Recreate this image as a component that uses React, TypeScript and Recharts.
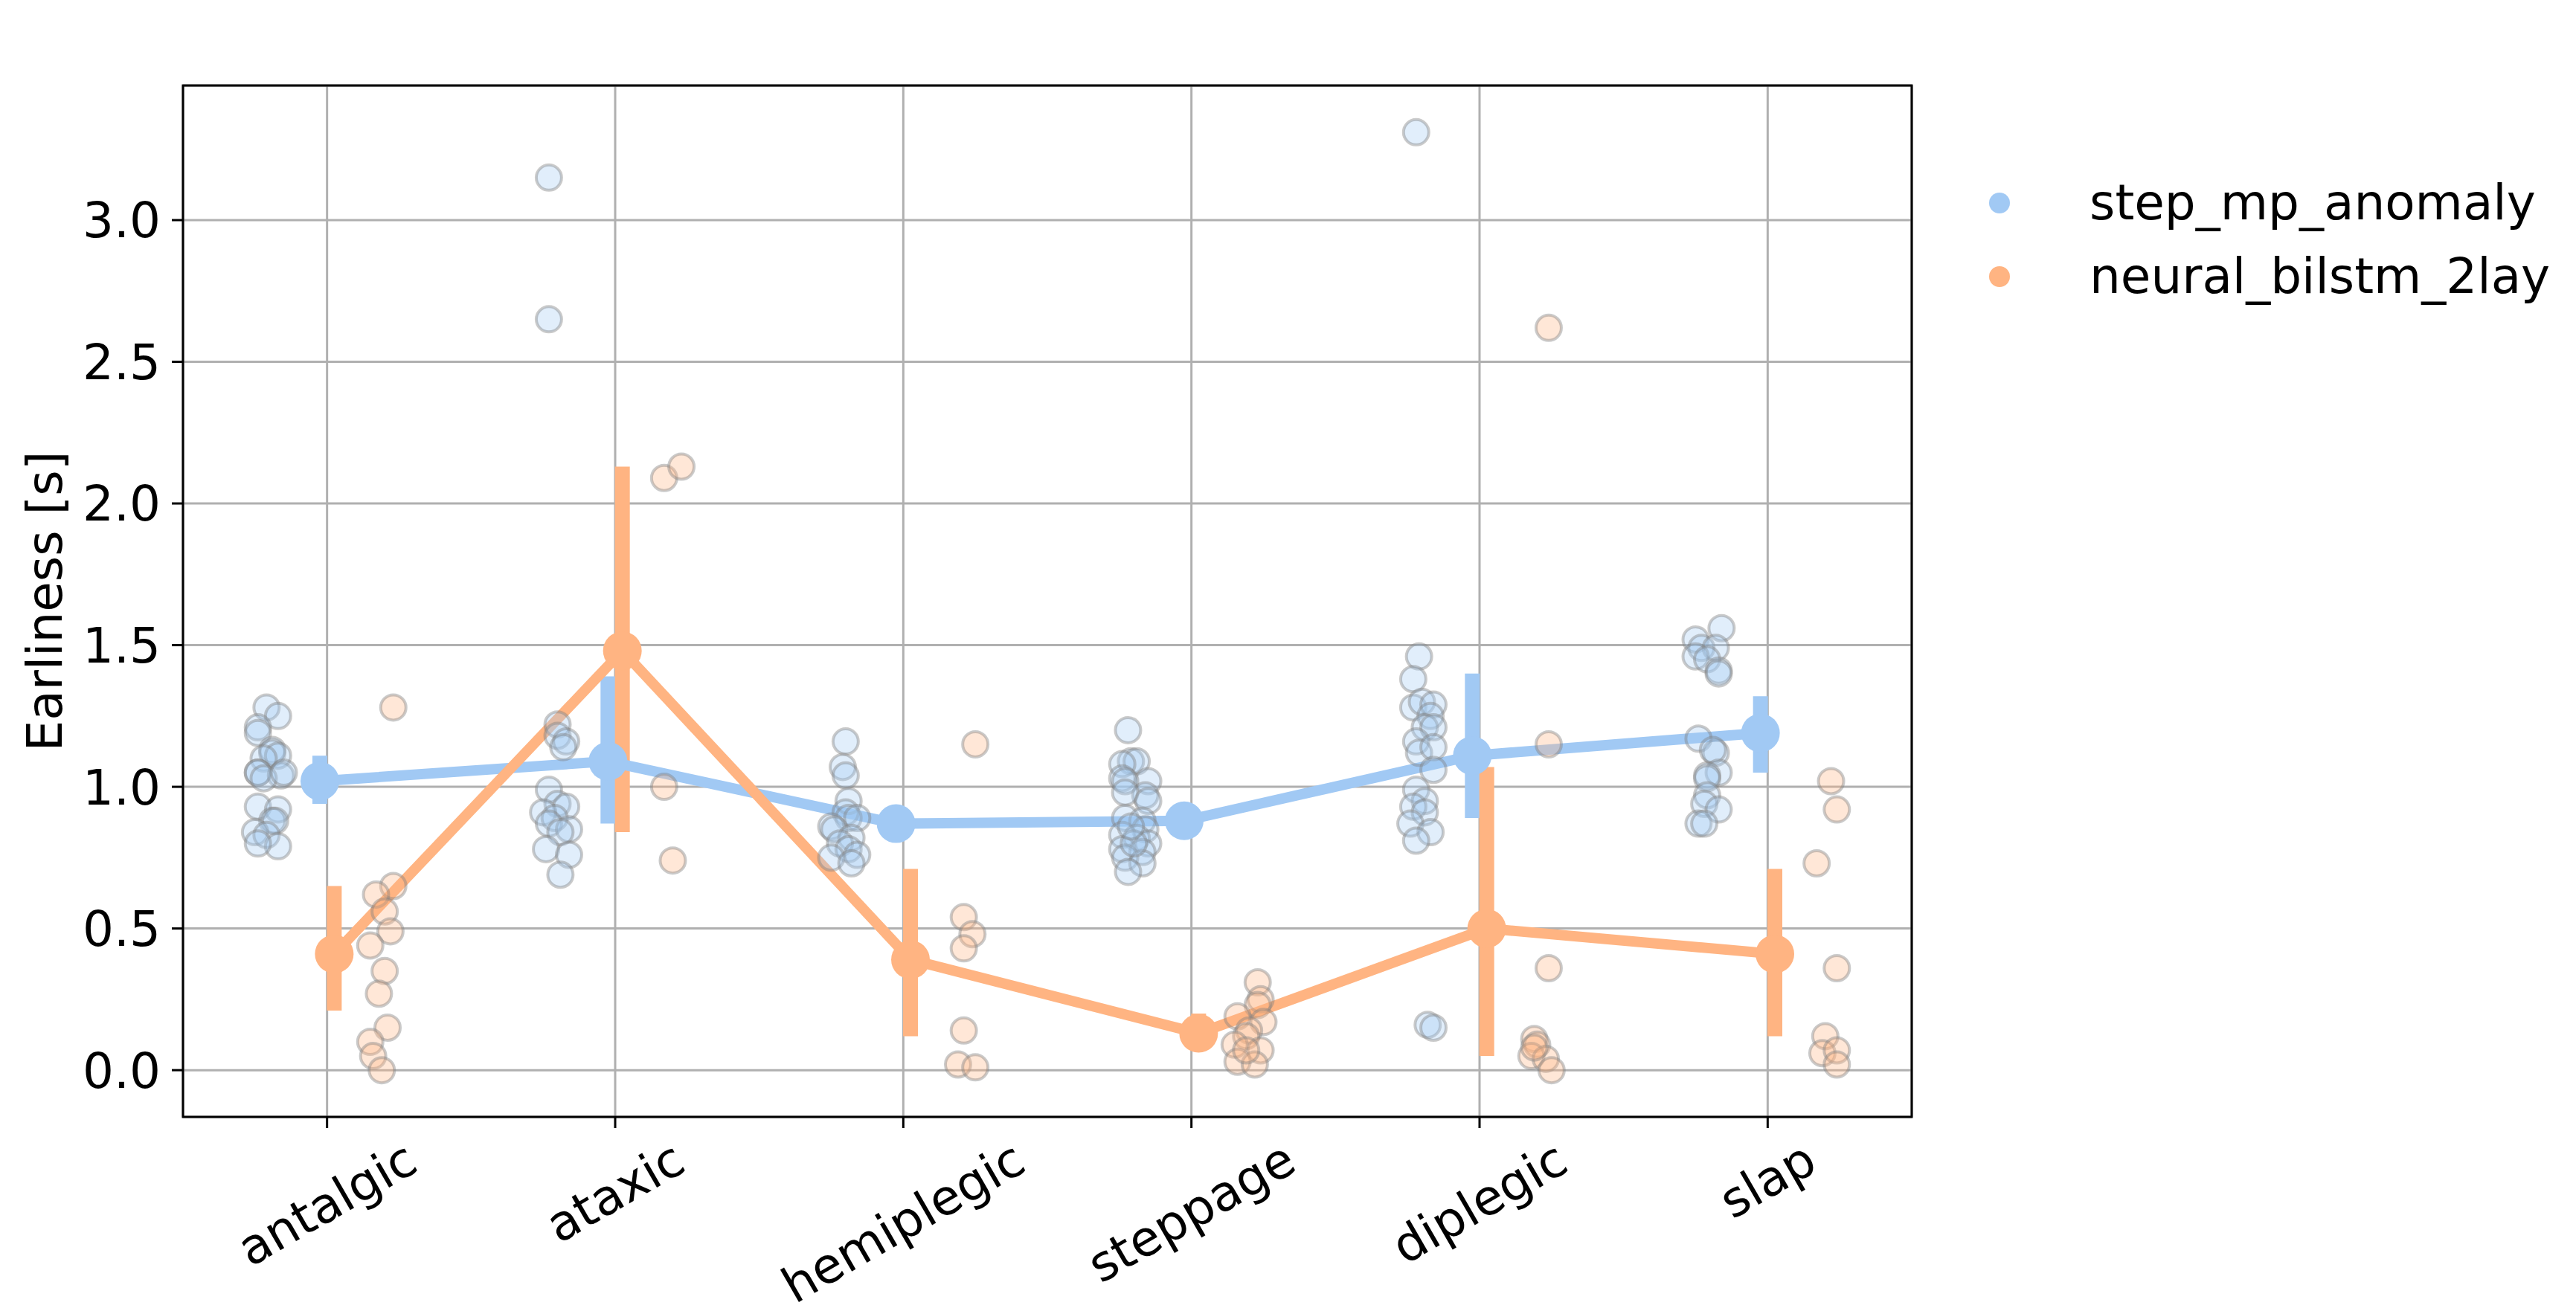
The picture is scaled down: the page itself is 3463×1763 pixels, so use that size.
import React from "react"
import { ScatterChart, Scatter, XAxis, YAxis, CartesianGrid, ErrorBar, ReferenceArea } from "recharts"

// gait types on the x axis
const CATEGORIES = ["antalgic", "ataxic", "hemiplegic", "steppage", "diplegic", "slap"]
const SERIES_NAMES = ["step_mp_anomaly", "neural_bilstm_2lay"]
const Y_TICKS = [0, 0.5, 1.0, 1.5, 2.0, 2.5, 3.0]

// point estimates (mean) and 95% CI per gait type
const STEP_MEAN = [1.02, 1.09, 0.87, 0.88, 1.11, 1.19]
const STEP_CI_LOW = [0.94, 0.87, 0.84, 0.85, 0.89, 1.05]
const STEP_CI_HIGH = [1.11, 1.39, 0.91, 0.91, 1.4, 1.32]
const LSTM_MEAN = [0.41, 1.48, 0.39, 0.13, 0.5, 0.41]
const LSTM_CI_LOW = [0.21, 0.84, 0.12, 0.08, 0.05, 0.12]
const LSTM_CI_HIGH = [0.65, 2.13, 0.71, 0.2, 1.07, 0.71]

// single recordings: [offset from category, earliness]
const STEP_POINTS: [number, number][][] = [
  [[-0.21, 1.28], [-0.17, 1.25], [-0.24, 1.21], [-0.24, 1.19], [-0.19, 1.13], [-0.19, 1.12], [-0.17, 1.11], [-0.22, 1.1], [-0.24, 1.05], [-0.24, 1.05], [-0.16, 1.04], [-0.22, 1.03], [-0.15, 1.05], [-0.24, 0.93], [-0.17, 0.92], [-0.19, 0.88], [-0.18, 0.88], [-0.25, 0.84], [-0.21, 0.83], [-0.17, 0.79], [-0.24, 0.8]],
  [[-0.23, 3.15], [-0.23, 2.65], [-0.2, 1.22], [-0.2, 1.18], [-0.17, 1.16], [-0.18, 1.14], [-0.23, 0.99], [-0.2, 0.94], [-0.17, 0.93], [-0.25, 0.91], [-0.21, 0.89], [-0.23, 0.87], [-0.16, 0.85], [-0.19, 0.84], [-0.24, 0.78], [-0.16, 0.76], [-0.19, 0.69]],
  [[-0.2, 1.16], [-0.21, 1.07], [-0.2, 1.04], [-0.19, 0.95], [-0.2, 0.91], [-0.19, 0.89], [-0.16, 0.89], [-0.25, 0.86], [-0.24, 0.85], [-0.18, 0.82], [-0.22, 0.8], [-0.19, 0.78], [-0.16, 0.76], [-0.25, 0.75], [-0.18, 0.73]],
  [[-0.22, 1.2], [-0.21, 1.09], [-0.19, 1.09], [-0.24, 1.08], [-0.24, 1.03], [-0.15, 1.02], [-0.23, 1.02], [-0.16, 0.97], [-0.23, 0.98], [-0.15, 0.95], [-0.23, 0.89], [-0.17, 0.88], [-0.16, 0.85], [-0.24, 0.83], [-0.19, 0.82], [-0.15, 0.8], [-0.24, 0.78], [-0.17, 0.77], [-0.23, 0.75], [-0.17, 0.73], [-0.22, 0.7], [-0.2, 0.8], [-0.21, 0.86]],
  [[-0.22, 3.31], [-0.21, 1.46], [-0.23, 1.38], [-0.23, 1.28], [-0.2, 1.3], [-0.16, 1.29], [-0.17, 1.25], [-0.19, 1.21], [-0.16, 1.21], [-0.22, 1.16], [-0.21, 1.12], [-0.16, 1.14], [-0.16, 1.06], [-0.22, 0.99], [-0.19, 0.95], [-0.23, 0.93], [-0.19, 0.91], [-0.24, 0.87], [-0.17, 0.84], [-0.22, 0.81], [-0.18, 0.16], [-0.16, 0.15]],
  [[-0.16, 1.56], [-0.25, 1.52], [-0.23, 1.49], [-0.18, 1.49], [-0.25, 1.46], [-0.21, 1.45], [-0.17, 1.41], [-0.17, 1.4], [-0.24, 1.17], [-0.18, 1.12], [-0.19, 1.13], [-0.17, 1.05], [-0.21, 1.04], [-0.21, 1.03], [-0.21, 0.97], [-0.22, 0.94], [-0.17, 0.92], [-0.24, 0.87], [-0.22, 0.87]],
]
const LSTM_POINTS: [number, number][][] = [
  [[0.23, 1.28], [0.23, 0.65], [0.17, 0.62], [0.2, 0.56], [0.22, 0.49], [0.15, 0.44], [0.2, 0.35], [0.18, 0.27], [0.21, 0.15], [0.15, 0.1], [0.16, 0.05], [0.19, 0.0]],
  [[0.17, 2.09], [0.23, 2.13], [0.17, 1.0], [0.2, 0.74]],
  [[0.25, 1.15], [0.21, 0.54], [0.24, 0.48], [0.21, 0.43], [0.21, 0.14], [0.19, 0.02], [0.25, 0.01]],
  [[0.23, 0.31], [0.24, 0.25], [0.23, 0.23], [0.16, 0.19], [0.25, 0.17], [0.2, 0.14], [0.19, 0.12], [0.24, 0.07], [0.15, 0.09], [0.16, 0.03], [0.22, 0.02], [0.19, 0.07]],
  [[0.24, 2.62], [0.24, 1.15], [0.24, 0.36], [0.19, 0.11], [0.2, 0.09], [0.18, 0.05], [0.23, 0.04], [0.25, 0.0], [0.19, 0.08]],
  [[0.22, 1.02], [0.24, 0.92], [0.17, 0.73], [0.24, 0.36], [0.2, 0.12], [0.19, 0.06], [0.24, 0.07], [0.24, 0.02]],
]

const BLUE = "#a1c9f4"
const ORANGE = "#ffb482"
const FONT = "DejaVu Sans"
const FS = 66
const DODGE = 0.025
const Y_DOMAIN: [number, number] = [-0.165, 3.475]

const meanData = (mean: number[], lo: number[], hi: number[], dx: number) =>
  mean.map((m, i) => ({ x: i + dx, y: m, err: [m - lo[i], hi[i] - m] }))

const stripData = (pts: [number, number][][]) =>
  pts.flatMap((group, i) => group.map(([dx, v]) => ({ x: i + dx, y: v })))

const stepMean = meanData(STEP_MEAN, STEP_CI_LOW, STEP_CI_HIGH, -DODGE)
const lstmMean = meanData(LSTM_MEAN, LSTM_CI_LOW, LSTM_CI_HIGH, DODGE)
const stepStrip = stripData(STEP_POINTS)
const lstmStrip = stripData(LSTM_POINTS)

let ctx: CanvasRenderingContext2D | null = null
function textWidth(s: string) {
  if (!ctx) ctx = document.createElement("canvas").getContext("2d")
  if (!ctx) return s.length * FS * 0.55
  ctx.font = `${FS}px "${FONT}"`
  return ctx.measureText(s).width
}

function XTick(props: any) {
  const { x, y, payload } = props
  const label = CATEGORIES[payload.value] ?? ""
  const w = textWidth(label)
  const h = FS * 1.164
  // rotated box sits centred under the tick
  const cy = y - 12 + (w * 0.5 + h * 0.866) / 2
  return (
    <text
      x={x}
      y={cy}
      textAnchor="middle"
      dominantBaseline="central"
      transform={`rotate(-30, ${x}, ${cy})`}
      fontFamily={FONT}
      fontSize={FS}
      fill="#000"
    >
      {label}
    </text>
  )
}

const meanDot = (color: string) => (p: any) => <circle cx={p.cx} cy={p.cy} r={26} fill={color} />
const stripDot = (color: string) => (p: any) => (
  <circle cx={p.cx} cy={p.cy} r={17} fill={color} fillOpacity={0.32} stroke="#808080" strokeOpacity={0.42} strokeWidth={4} />
)

export default function App() {
  return (
    <div style={{ position: "absolute", left: 0, top: 0, width: 3463, height: 1763, background: "#fff" }}>
      <ScatterChart width={3463} height={1763} margin={{ top: 115, right: 893, bottom: 0, left: 0 }}>
        <CartesianGrid stroke="#b0b0b0" strokeWidth={3} />
        <XAxis
          type="number"
          dataKey="x"
          domain={[-0.5, 5.5]}
          ticks={[0, 1, 2, 3, 4, 5]}
          interval={0}
          allowDataOverflow
          height={261}
          axisLine={false}
          tickLine={{ stroke: "#000", strokeWidth: 3 }}
          tickSize={15}
          tickMargin={15}
          tick={<XTick />}
        />
        <YAxis
          type="number"
          dataKey="y"
          domain={Y_DOMAIN}
          ticks={Y_TICKS}
          interval={0}
          allowDataOverflow
          width={246}
          axisLine={false}
          tickLine={{ stroke: "#000", strokeWidth: 3 }}
          tickSize={15}
          tickMargin={15}
          tickFormatter={(v: number) => v.toFixed(1)}
          tick={{ fontFamily: FONT, fontSize: FS, fill: "#000" }}
          label={(p: any) => {
            const vb = p?.viewBox
            const cy = vb && vb.height ? vb.y + vb.height / 2 : 808
            return (
              <text
                x={60}
                y={cy}
                textAnchor="middle"
                dominantBaseline="central"
                transform={`rotate(-90, 60, ${cy})`}
                fontFamily={FONT}
                fontSize={FS}
                fill="#000"
              >
                Earliness [s]
              </text>
            )
          }}
        />
        <Scatter data={stepMean} isAnimationActive={false} line={{ stroke: BLUE, strokeWidth: 14 }} shape={meanDot(BLUE)}>
          <ErrorBar dataKey="err" direction="y" width={0} stroke={BLUE} strokeWidth={20} />
        </Scatter>
        <Scatter data={lstmMean} isAnimationActive={false} line={{ stroke: ORANGE, strokeWidth: 14 }} shape={meanDot(ORANGE)}>
          <ErrorBar dataKey="err" direction="y" width={0} stroke={ORANGE} strokeWidth={20} />
        </Scatter>
        <Scatter data={stepStrip} isAnimationActive={false} shape={stripDot(BLUE)} />
        <Scatter data={lstmStrip} isAnimationActive={false} shape={stripDot(ORANGE)} />
        <ReferenceArea
          x1={-0.5}
          x2={5.5}
          y1={Y_DOMAIN[0]}
          y2={Y_DOMAIN[1]}
          fill="none"
          stroke="#000"
          strokeWidth={3}
          ifOverflow="visible"
        />
      </ScatterChart>
      <div style={{ position: "absolute", left: 2674, top: 223 }}>
        {SERIES_NAMES.map((name, i) => (
          <div key={name} style={{ height: 99, display: "flex", alignItems: "center" }}>
            <svg width={28} height={28}>
              <circle cx={14} cy={14} r={14} fill={i === 0 ? BLUE : ORANGE} />
            </svg>
            <span style={{ marginLeft: 107, fontFamily: FONT, fontSize: FS, color: "#000", whiteSpace: "nowrap" }}>{name}</span>
          </div>
        ))}
      </div>
    </div>
  )
}
